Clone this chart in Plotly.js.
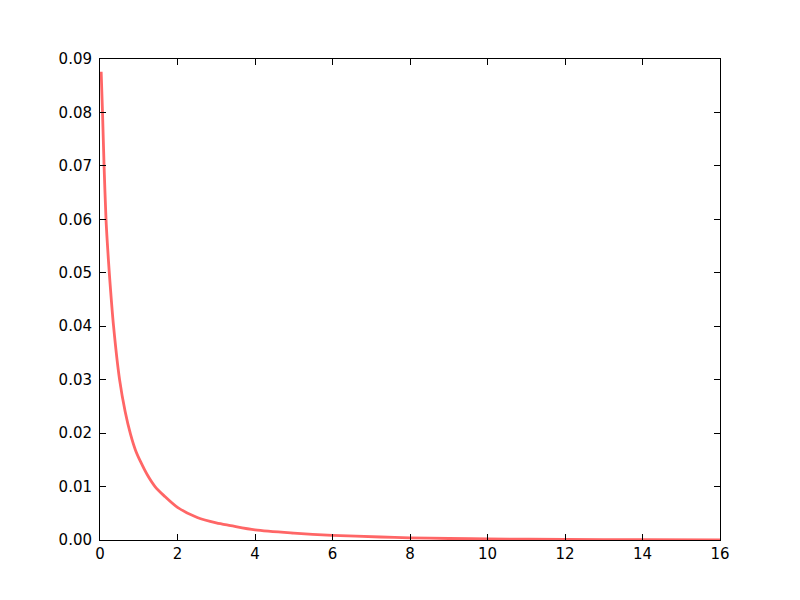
<!DOCTYPE html>
<html>
<head>
<meta charset="utf-8">
<script src="https://cdn.plot.ly/plotly-3.0.1.min.js"></script>
<style>html,body{margin:0;padding:0;background:#fff;}#chart{width:800px;height:600px;}</style>
</head>
<body>
<div id="chart"></div>
<script>
const xValues = [0.03, 0.065, 0.105, 0.155, 0.19, 0.24, 0.35, 0.505, 0.65, 0.787, 0.916, 1.05, 1.22, 1.42, 1.65, 2.0, 2.51, 3.0, 3.37, 4.0, 5.0, 6.0, 7.24, 8.0, 9.0, 10.0, 12.0, 14.0, 16.0];
const yValues = [0.0876, 0.08, 0.07, 0.06, 0.0555, 0.05, 0.04, 0.03, 0.024, 0.0198, 0.0168, 0.0146, 0.0122, 0.0100, 0.0083, 0.0061, 0.0042, 0.0032, 0.0027, 0.0019, 0.0013, 0.00088, 0.00056, 0.0004, 0.00028, 0.0002, 0.0001, 0.00005, 0.00003];
const xTicks = [0, 2, 4, 6, 8, 10, 12, 14, 16];
const yTicks = [0.00, 0.01, 0.02, 0.03, 0.04, 0.05, 0.06, 0.07, 0.08, 0.09];

const trace = {
  x: xValues, y: yValues, type: 'scatter', mode: 'lines',
  line: {color: 'rgb(255,102,102)', width: 2.8, shape: 'spline', smoothing: 0.8},
  hoverinfo: 'none'
};
const axisBase = {
  showgrid: false, zeroline: false, showline: true, linecolor: '#000', linewidth: 1,
  mirror: 'allticks', ticks: 'inside', ticklen: 6, tickwidth: 1, tickcolor: '#000',
  tickfont: {family: 'DejaVu Sans', size: 15, color: '#000'}
};
const layout = {
  width: 800, height: 600,
  margin: {l: 100, r: 80, t: 59, b: 60},
  paper_bgcolor: '#fff', plot_bgcolor: '#fff',
  showlegend: false,
  xaxis: Object.assign({}, axisBase, {range: [0, 16], tickvals: xTicks, ticktext: xTicks.map(String)}),
  yaxis: Object.assign({}, axisBase, {range: [0, 0.09], tickvals: yTicks, ticktext: yTicks.map(v => v.toFixed(2)), ticklabelstandoff: 4})
};
Plotly.newPlot('chart', [trace], layout, {staticPlot: true});
</script>
</body>
</html>
